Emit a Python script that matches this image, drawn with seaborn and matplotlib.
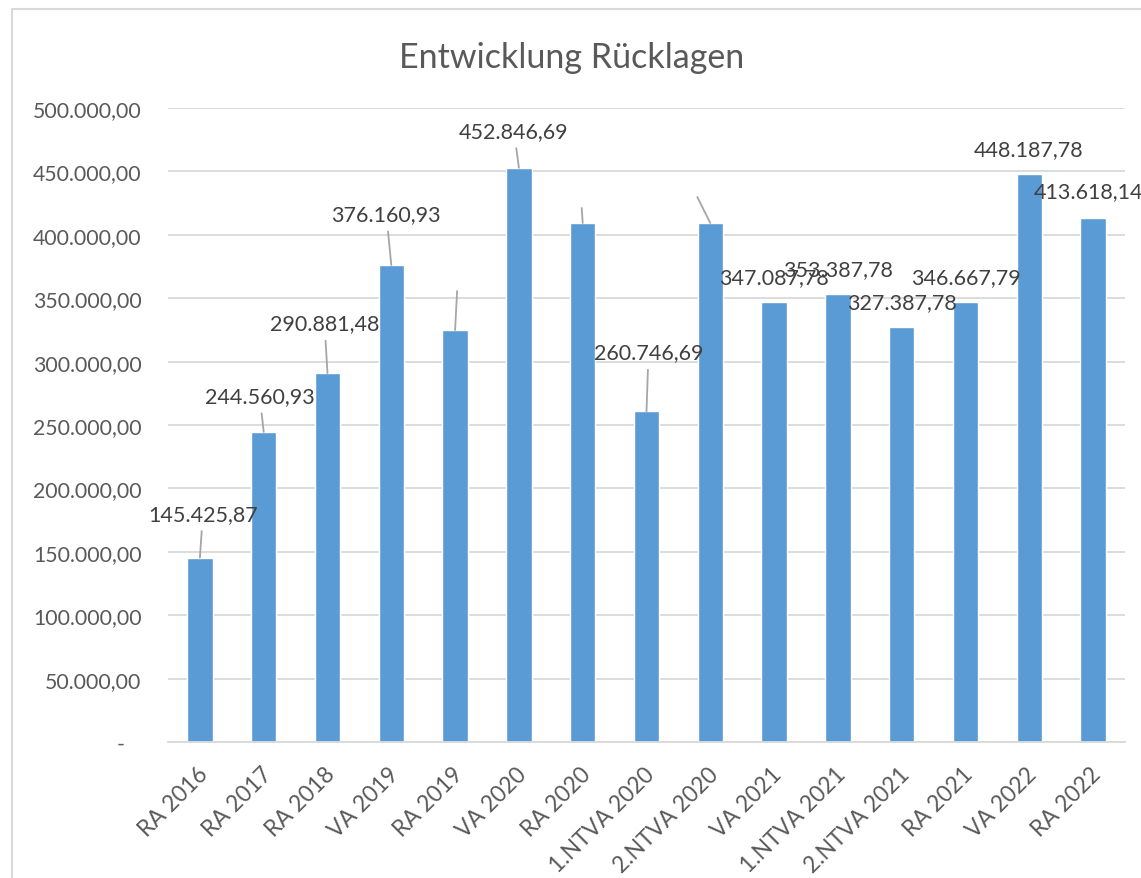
import matplotlib
matplotlib.use("Agg")
import matplotlib.pyplot as plt
from matplotlib.patches import Rectangle
from matplotlib.ticker import FuncFormatter, MultipleLocator
from matplotlib.transforms import ScaledTranslation
import seaborn as sns

categories = ["RA 2016", "RA 2017", "RA 2018", "VA 2019", "RA 2019", "VA 2020",
              "RA 2020", "1.NTVA 2020", "2.NTVA 2020", "VA 2021", "1.NTVA 2021",
              "2.NTVA 2021", "RA 2021", "VA 2022", "RA 2022"]
values = [145425.87, 244560.93, 290881.48, 376160.93, 324900.00, 452846.69,
          409300.00, 260746.69, 409300.00, 347087.78, 353387.78, 327387.78,
          346667.79, 448187.78, 413618.14]
# labels of RA 2019, RA 2020 and 2.NTVA 2020 are not visible in the chart
label_shown = [True, True, True, True, False, True, False, True, False,
               True, True, True, True, True, True]
has_leader = [True] * 9 + [False] * 6

# label offset from bar top, in pixels
label_dx = [3, -4, -3, -5, 2, -5, -1, 2, -13, 0, 0, 0, 0, -1, -5]
label_dy = [44, 36, 50, 51, 39, 37, 15, 59, 26, 25, 25, 25, 25, 25, 26]

BAR = "#5B9BD5"
TXT = "#595959"
GRID = "#D9D9D9"


def de_fmt(v, pos=None):
    if v == 0:
        return "-   "
    s = f"{v:,.2f}"
    return s.replace(",", "X").replace(".", ",").replace("X", ".")


sns.set_style("white")
plt.rcParams["font.family"] = ["Lato", "DejaVu Sans"]

W, H = 1141, 879
fig = plt.figure(figsize=(W / 100, H / 100), dpi=100)
fig.patches.append(Rectangle((12 / W, -0.2), 1.2, 1.2 - 10 / H,
                             transform=fig.transFigure, fill=False,
                             edgecolor=GRID, lw=1.5))
ax = fig.add_axes([168 / W, 1 - 743 / H, (1125 - 168) / W, (743 - 109) / H])

sns.barplot(x=categories, y=values, color=BAR, saturation=1, width=0.4, ax=ax)

ax.set_xlim(-0.5, len(categories) - 0.5)
ax.set_ylim(0, 500000)
ax.yaxis.set_major_locator(MultipleLocator(50000))
ax.yaxis.set_major_formatter(FuncFormatter(de_fmt))
ax.grid(axis="y", color=GRID, lw=1.3)
ax.set_axisbelow(True)
for side in ["top", "right", "left"]:
    ax.spines[side].set_visible(False)
ax.spines["bottom"].set_color(GRID)
ax.spines["bottom"].set_linewidth(1.3)
ax.set_xlabel("")
ax.set_ylabel("")
ax.tick_params(axis="y", length=0, pad=19, labelsize=15.3, labelcolor=TXT)
ax.tick_params(axis="x", length=0, pad=15, labelsize=16.3, labelcolor=TXT)
shift = ScaledTranslation(-3 / 100, 0, fig.dpi_scale_trans)
for lbl in ax.get_xticklabels():
    lbl.set_rotation(45)
    lbl.set_ha("right")
    lbl.set_va("top")
    lbl.set_rotation_mode("anchor")
    lbl.set_transform(lbl.get_transform() + shift)

for i, v in enumerate(values):
    text = de_fmt(v) if label_shown[i] else ""
    arrow = None
    if has_leader[i]:
        arrow = dict(arrowstyle="-", color="#A6A6A6", lw=1.3,
                     shrinkA=3 if label_shown[i] else 0, shrinkB=0)
    ax.annotate(text, xy=(i, v), xytext=(label_dx[i], label_dy[i]),
                textcoords="offset pixels", ha="center", va="center",
                fontsize=15.5, color="#404040", arrowprops=arrow,
                annotation_clip=False)

fig.text(572 / W, 1 - 58 / H, "Entwicklung Rücklagen", ha="center",
         va="center", fontsize=24.5, color=TXT)

fig.savefig("out.png", dpi=100)
